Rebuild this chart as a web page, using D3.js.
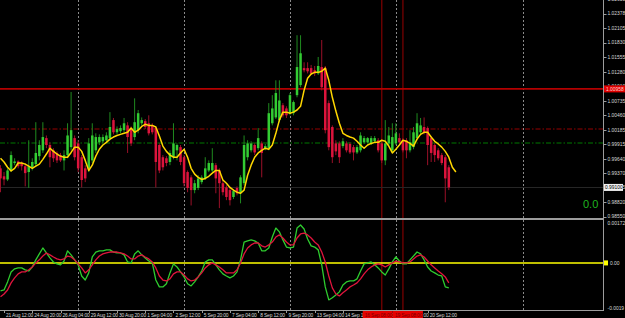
<!DOCTYPE html>
<html lang="en">
<head>
<meta charset="utf-8">
<title>H4 chart</title>
<script src="https://d3js.org/d3.v7.min.js"></script>
<style>
  html, body { margin: 0; padding: 0; background: #000; }
  svg { display: block; }
  text { font-family: "Liberation Sans", Arial, sans-serif; }
</style>
</head>
<body>
<div id="chart"></div>
<script>
// candles, [open, high, low, close], one per H4 bar
const bars = [
  [0.9946,0.9952,0.9901,0.9927],[0.9931,0.9939,0.9914,0.9925],[0.9925,0.9946,0.9922,0.9942],[0.9942,0.9978,0.9939,0.9971],
  [0.9956,0.9965,0.9952,0.9959],[0.9959,0.9961,0.9946,0.9950],[0.9956,0.9959,0.9942,0.9950],[0.9950,0.9956,0.9912,0.9937],
  [0.9939,0.9999,0.9909,0.9950],[0.9948,0.9965,0.9942,0.9958],[0.9954,1.0033,0.9950,0.9975],[0.9969,0.9999,0.9961,0.9990],
  [0.9980,1.0033,0.9975,1.0005],[1.0003,1.0008,0.9984,0.9990],[0.9990,0.9995,0.9948,0.9967],[0.9980,0.9984,0.9958,0.9965],
  [0.9975,0.9978,0.9956,0.9961],[0.9971,0.9975,0.9958,0.9961],[0.9961,0.9980,0.9942,0.9971],[0.9971,1.0031,0.9965,1.0008],
  [0.9986,1.0090,0.9980,1.0018],[1.0003,1.0008,0.9961,0.9967],[0.9993,0.9999,0.9939,0.9946],[0.9967,0.9971,0.9910,0.9924],
  [0.9946,0.9952,0.9920,0.9927],[0.9946,1.0003,0.9939,0.9993],[0.9961,1.0031,0.9956,1.0008],[0.9980,1.0012,0.9975,1.0005],
  [0.9995,1.0010,0.9990,1.0005],[0.9997,1.0010,0.9993,1.0005],[0.9999,1.0014,0.9995,1.0008],[1.0003,1.0052,0.9999,1.0024],
  [1.0037,1.0041,1.0010,1.0014],[1.0014,1.0025,1.0010,1.0020],[1.0016,1.0027,1.0012,1.0022],[1.0018,1.0041,1.0014,1.0031],
  [1.0027,1.0033,0.9975,1.0005],[1.0022,1.0025,0.9988,0.9993],[1.0005,1.0078,0.9999,1.0033],[1.0018,1.0056,1.0012,1.0050],
  [1.0031,1.0042,1.0027,1.0037],[1.0035,1.0039,1.0020,1.0024],[1.0031,1.0046,1.0008,1.0012],[1.0027,1.0031,1.0010,1.0014],
  [1.0022,1.0025,0.9910,0.9958],[0.9990,0.9993,0.9937,0.9942],[0.9967,0.9971,0.9942,0.9948],[0.9965,0.9969,0.9950,0.9956],
  [0.9958,0.9980,0.9952,0.9975],[0.9967,1.0031,0.9963,0.9993],[0.9980,0.9993,0.9961,0.9990],[0.9986,0.9990,0.9952,0.9958],
  [0.9967,0.9971,0.9912,0.9918],[0.9939,0.9942,0.9901,0.9909],[0.9929,0.9933,0.9876,0.9905],[0.9905,0.9924,0.9899,0.9918],
  [0.9909,0.9933,0.9905,0.9927],[0.9920,0.9933,0.9916,0.9929],[0.9927,0.9967,0.9924,0.9946],[0.9942,0.9961,0.9939,0.9956],
  [0.9942,0.9984,0.9939,0.9956],[0.9952,0.9956,0.9899,0.9927],[0.9942,0.9946,0.9871,0.9918],[0.9918,0.9924,0.9895,0.9901],
  [0.9910,0.9914,0.9886,0.9892],[0.9905,0.9909,0.9876,0.9886],[0.9892,0.9907,0.9888,0.9903],[0.9909,0.9912,0.9895,0.9899],
  [0.9899,0.9933,0.9880,0.9929],[0.9918,1.0008,0.9914,0.9990],[0.9967,0.9999,0.9961,0.9993],[0.9980,0.9997,0.9976,0.9993],
  [0.9990,0.9993,0.9971,0.9976],[0.9984,1.0022,0.9980,1.0003],[0.9993,0.9997,0.9929,0.9975],[0.9984,0.9992,0.9980,0.9988],
  [0.9984,1.0069,0.9980,1.0050],[1.0031,1.0084,1.0027,1.0059],[1.0042,1.0112,1.0039,1.0088],[1.0037,1.0112,1.0033,1.0074],
  [1.0065,1.0069,1.0042,1.0046],[1.0059,1.0063,1.0041,1.0046],[1.0050,1.0088,1.0046,1.0084],[1.0050,1.0074,1.0046,1.0071],
  [1.0084,1.0197,1.0080,1.0137],[1.0103,1.0197,1.0099,1.0163],[1.0135,1.0146,1.0127,1.0131],[1.0135,1.0146,1.0125,1.0129],
  [1.0135,1.0141,1.0122,1.0125],[1.0131,1.0139,1.0120,1.0125],[1.0125,1.0156,1.0122,1.0139],[1.0137,1.0188,1.0093,1.0099],
  [1.0135,1.0139,1.0012,1.0018],[1.0069,1.0074,0.9980,0.9986],[1.0024,1.0027,0.9956,0.9967],[0.9993,0.9999,0.9971,0.9978],
  [0.9993,0.9997,0.9956,0.9967],[0.9988,1.0003,0.9984,0.9997],[0.9993,0.9997,0.9976,0.9980],[0.9992,0.9995,0.9973,0.9976],
  [0.9986,0.9990,0.9961,0.9976],[0.9976,0.9990,0.9973,0.9986],[0.9980,1.0014,0.9976,1.0008],[0.9995,1.0007,0.9992,1.0003],
  [0.9995,1.0005,0.9993,1.0003],[0.9993,1.0007,0.9990,1.0003],[0.9997,1.0007,0.9995,1.0003],[0.9999,1.0003,0.9976,0.9980],
  [0.9993,0.9997,0.9956,0.9961],[0.9961,1.0037,0.9952,0.9993],[0.9993,1.0024,0.9990,1.0008],[0.9980,1.0031,0.9976,1.0005],
  [0.9993,1.0031,0.9990,1.0012],[1.0003,1.0012,0.9993,0.9995],[0.9999,1.0003,0.9976,0.9980],[0.9999,1.0003,0.9965,0.9980],
  [0.9980,1.0018,0.9976,0.9995],[0.9986,1.0024,0.9982,1.0014],[1.0003,1.0050,0.9999,1.0031],[1.0014,1.0041,1.0010,1.0027],
  [1.0024,1.0042,1.0010,1.0014],[1.0022,1.0025,0.9952,0.9990],[1.0003,1.0007,0.9958,0.9975],[0.9990,0.9993,0.9958,0.9971],
  [0.9980,0.9984,0.9961,0.9965],[0.9971,0.9975,0.9952,0.9956],[0.9967,0.9971,0.9882,0.9927],[0.9948,0.9952,0.9905,0.9910]
];

// yellow moving average (drawn two bars past the last candle)
const ma = [
  0.9965,0.9958,0.9948,0.9941,0.9946,0.9956,0.9956,0.9954,0.9950,0.9946,0.9950,0.9954,0.9963,0.9973,0.9984,0.9978,
  0.9973,0.9969,0.9967,0.9967,0.9976,0.9986,0.9986,0.9978,0.9961,0.9942,0.9952,0.9969,0.9982,0.9990,0.9995,1.0001,
  1.0005,1.0008,1.0010,1.0012,1.0014,1.0022,1.0014,1.0018,1.0025,1.0029,1.0027,1.0027,1.0024,1.0007,0.9988,0.9978,
  0.9971,0.9967,0.9967,0.9975,0.9982,0.9967,0.9946,0.9935,0.9929,0.9925,0.9927,0.9931,0.9937,0.9942,0.9942,0.9924,
  0.9918,0.9910,0.9905,0.9901,0.9899,0.9905,0.9933,0.9952,0.9967,0.9975,0.9980,0.9984,0.9982,0.9990,1.0012,1.0037,
  1.0052,1.0052,1.0050,1.0052,1.0056,1.0063,1.0093,1.0116,1.0124,1.0127,1.0127,1.0129,1.0135,1.0112,1.0080,1.0054,
  1.0031,1.0012,1.0008,1.0005,1.0003,0.9997,0.9990,0.9984,0.9990,0.9993,0.9995,0.9995,0.9999,0.9997,0.9988,0.9975,
  0.9982,0.9990,0.9999,0.9997,0.9993,0.9988,1.0001,1.0010,1.0014,1.0014,1.0005,0.9997,0.9992,0.9986,0.9978,0.9967,
  0.9948,0.9939
];

// lower window: green main line and red signal line
const fast = [
  -0.00118,-0.00114,-0.00080,-0.00038,-0.00025,-0.00021,-0.00021,-0.00029,-0.00034,-0.00017,0.00013,0.00038,0.00063,0.00042,0.00021,0.00004,
  -0.00004,-0.00008,0.00008,0.00051,0.00034,0.00013,-0.00008,-0.00055,-0.00072,-0.00042,0.00025,0.00046,0.00051,0.00051,0.00055,0.00055,
  0.00046,0.00042,0.00042,0.00034,0.00004,0.00000,0.00038,0.00051,0.00034,0.00021,0.00008,0.00000,-0.00072,-0.00101,-0.00101,-0.00088,
  -0.00042,-0.00004,-0.00017,-0.00038,-0.00059,-0.00088,-0.00097,-0.00080,-0.00059,-0.00034,0.00004,0.00013,0.00013,-0.00008,-0.00029,-0.00046,
  -0.00055,-0.00063,-0.00055,-0.00038,0.00013,0.00088,0.00093,0.00097,0.00093,0.00084,0.00051,0.00051,0.00063,0.00109,0.00147,0.00131,
  0.00097,0.00067,0.00063,0.00067,0.00147,0.00160,0.00143,0.00101,0.00072,0.00067,0.00055,-0.00008,-0.00101,-0.00156,-0.00147,-0.00135,
  -0.00122,-0.00093,-0.00080,-0.00076,-0.00076,-0.00067,-0.00034,-0.00004,0.00000,0.00004,-0.00008,-0.00021,-0.00038,-0.00051,-0.00025,0.00004,
  0.00025,0.00008,-0.00004,-0.00004,0.00013,0.00029,0.00046,0.00038,0.00013,-0.00017,-0.00034,-0.00042,-0.00051,-0.00055,-0.00101,-0.00105
];
const signal = [
  -0.00143,-0.00131,-0.00114,-0.00084,-0.00063,-0.00046,-0.00038,-0.00038,-0.00029,-0.00017,0.00000,0.00013,0.00029,0.00042,0.00034,0.00025,
  0.00017,0.00013,0.00017,0.00029,0.00025,0.00013,-0.00004,-0.00021,-0.00042,-0.00029,-0.00008,0.00013,0.00029,0.00038,0.00042,0.00046,
  0.00046,0.00046,0.00042,0.00038,0.00029,0.00017,0.00017,0.00029,0.00034,0.00025,0.00017,0.00004,-0.00021,-0.00055,-0.00072,-0.00076,
  -0.00067,-0.00046,-0.00038,-0.00038,-0.00051,-0.00067,-0.00076,-0.00072,-0.00059,-0.00042,-0.00021,-0.00008,0.00000,-0.00008,-0.00017,-0.00029,
  -0.00042,-0.00042,-0.00042,-0.00029,0.00000,0.00038,0.00063,0.00076,0.00084,0.00084,0.00072,0.00067,0.00076,0.00088,0.00109,0.00118,
  0.00105,0.00088,0.00076,0.00076,0.00105,0.00122,0.00126,0.00118,0.00105,0.00088,0.00076,0.00046,0.00004,-0.00055,-0.00105,-0.00131,
  -0.00139,-0.00126,-0.00114,-0.00101,-0.00093,-0.00084,-0.00067,-0.00046,-0.00029,-0.00017,-0.00008,-0.00004,-0.00008,-0.00017,-0.00008,0.00000,
  0.00008,0.00004,0.00000,0.00000,0.00004,0.00017,0.00029,0.00034,0.00025,0.00008,-0.00008,-0.00021,-0.00034,-0.00046,-0.00059,-0.00084
];

// axis texts
const priceTicks = [0.98550,0.98820,0.99095,0.99370,0.99640,0.99915,1.00185,1.00460,1.00735,1.01010,1.01280,1.01555,1.01830,1.02105,1.02378,1.02650];
const indTicks = [0.001725, 0, -0.0019];
const indTickText = ["0.001725", "0.00", "-0.0019"];
const timeBars = [1,9,17,25,33,41,49,57,65,73,81,89,97,105,113,121];
const timeLabels = ["21 Aug 12:00","24 Aug 20:00","26 Aug 04:00","29 Aug 12:00","30 Aug 20:00","1 Sep 04:00","2 Sep 12:00","5 Sep 20:00",
  "7 Sep 04:00","8 Sep 12:00","9 Sep 20:00","13 Sep 04:00","14 Sep 12:00","15 Sep 20:00","19 Sep 04:00","20 Sep 12:00"];

// chart objects
const separatorBars = [22, 52, 82, 112, 148];
const vLineBars = [108, 114];
const vLineLabels = ["16 Sep 08:00", "19 Sep 08:00"];
const redLevel = 1.00958;
const dashLevels = [{v: 1.0020, c: "#960000"}, {v: 0.9993, c: "#007800"}];

const width = 625, height = 318;
const plotRight = 603.5;
const mainTop = 0, mainBottom = 218;
const indTop = 220, indBottom = 310;
const fs = 4.9;

const svg = d3.select("#chart").append("svg")
    .attr("width", width).attr("height", height);
svg.append("rect").attr("width", width).attr("height", height).attr("fill", "#000");

const x = d3.scaleLinear().domain([0, 170]).range([0.5, 0.5 + 170 * 3.53]);
const y = d3.scaleLinear().domain([0.98550, 1.02378]).range([216.6, 13.6]);
const yi = d3.scaleLinear().domain([-0.0019, 0.001725]).range([308, 222]);

const defs = svg.append("defs");
defs.append("clipPath").attr("id", "clipMain")
    .append("rect").attr("x", 0).attr("y", mainTop).attr("width", plotRight).attr("height", mainBottom - mainTop);
defs.append("clipPath").attr("id", "clipInd")
    .append("rect").attr("x", 0).attr("y", indTop).attr("width", plotRight).attr("height", indBottom - indTop);

// vertical lines through both windows
const vg = svg.append("g");
vg.selectAll("line.sep").data(separatorBars).join("line")
    .attr("class", "sep")
    .attr("x1", d => Math.round(x(d)) + 0.5).attr("x2", d => Math.round(x(d)) + 0.5)
    .attr("y1", 0).attr("y2", indBottom)
    .attr("stroke", "#8a8a8a").attr("stroke-width", 1).attr("stroke-dasharray", "2,2");
vg.selectAll("line.vl").data(vLineBars).join("line")
    .attr("class", "vl")
    .attr("x1", d => x(d)).attr("x2", d => x(d))
    .attr("y1", 0).attr("y2", indBottom)
    .attr("stroke", "#6e0000").attr("stroke-width", 1.4);

// ---- main window
const main = svg.append("g").attr("clip-path", "url(#clipMain)");

main.append("line")
    .attr("x1", 0).attr("x2", plotRight)
    .attr("y1", y(redLevel)).attr("y2", y(redLevel))
    .attr("stroke", "#b40000").attr("stroke-width", 1.6);

main.selectAll("line.lvl").data(dashLevels).join("line")
    .attr("class", "lvl")
    .attr("x1", 0).attr("x2", plotRight)
    .attr("y1", d => Math.round(y(d.v))).attr("y2", d => Math.round(y(d.v)))
    .attr("stroke", d => d.c).attr("stroke-width", 1.2).attr("stroke-dasharray", "5,2,1.5,2");

const lastClose = bars[bars.length - 1][3];
main.append("line")
    .attr("x1", 0).attr("x2", plotRight)
    .attr("y1", Math.round(y(lastClose)) + 0.5).attr("y2", Math.round(y(lastClose)) + 0.5)
    .attr("stroke", "#262626").attr("stroke-width", 1);

const candle = main.append("g").selectAll("g").data(bars).join("g");
candle.append("line")
    .attr("x1", (d, i) => x(i)).attr("x2", (d, i) => x(i))
    .attr("y1", d => y(d[1])).attr("y2", d => y(d[2]))
    .attr("stroke", d => d[3] >= d[0] ? "#1f8a1f" : "#9a1028")
    .attr("stroke-width", 1);
candle.append("rect")
    .attr("x", (d, i) => x(i) - 1.25)
    .attr("width", 2.5)
    .attr("y", d => y(Math.max(d[0], d[3])))
    .attr("height", d => Math.max(1, Math.abs(y(d[0]) - y(d[3]))))
    .attr("fill", d => d[3] >= d[0] ? "#33cc33" : "#dc143c");

main.append("path")
    .datum(ma)
    .attr("fill", "none")
    .attr("stroke", "#ffd700")
    .attr("stroke-width", 1.5)
    .attr("stroke-linejoin", "round")
    .attr("d", d3.line().x((d, i) => x(i)).y(d => y(d)));

svg.append("text")
    .attr("x", 583).attr("y", 208)
    .attr("fill", "#1fb51f")
    .attr("font-size", 11)
    .text("0.0");

// ---- indicator window
const ind = svg.append("g").attr("clip-path", "url(#clipInd)");
ind.append("line")
    .attr("x1", 0).attr("x2", plotRight)
    .attr("y1", yi(0)).attr("y2", yi(0))
    .attr("stroke", "#ffff00").attr("stroke-width", 1.5);

const indLine = d3.line().x((d, i) => x(i)).y(d => yi(d));
ind.append("path").datum(fast)
    .attr("fill", "none").attr("stroke", "#2ecc2e").attr("stroke-width", 1.3)
    .attr("stroke-linejoin", "round").attr("d", indLine);
ind.append("path").datum(signal)
    .attr("fill", "none").attr("stroke", "#e0143c").attr("stroke-width", 1.3)
    .attr("stroke-linejoin", "round").attr("d", indLine);

// ---- frame
svg.append("line")
    .attr("x1", 0).attr("x2", plotRight).attr("y1", 219).attr("y2", 219)
    .attr("stroke", "#9c9c9c").attr("stroke-width", 2);
svg.append("line")
    .attr("x1", 0).attr("x2", plotRight).attr("y1", indBottom + 0.5).attr("y2", indBottom + 0.5)
    .attr("stroke", "#9c9c9c").attr("stroke-width", 1);
svg.append("line")
    .attr("x1", plotRight).attr("x2", plotRight).attr("y1", 0).attr("y2", indBottom + 1)
    .attr("stroke", "#9c9c9c").attr("stroke-width", 1);

// price scale
const pAxis = svg.append("g");
pAxis.selectAll("line").data(priceTicks).join("line")
    .attr("x1", plotRight).attr("x2", plotRight + 3)
    .attr("y1", d => Math.round(y(d)) + 0.5).attr("y2", d => Math.round(y(d)) + 0.5)
    .attr("stroke", "#9c9c9c");
pAxis.selectAll("text").data(priceTicks).join("text")
    .attr("x", 607.5).attr("y", d => y(d) + 1.8)
    .attr("fill", "#d8d8d8").attr("font-size", fs)
    .text(d => d3.format(".5f")(d));

// red level tag and bid tag
svg.append("rect")
    .attr("x", 604).attr("y", y(redLevel) - 3.5).attr("width", 21).attr("height", 7)
    .attr("fill", "#e00000");
svg.append("text")
    .attr("x", 606).attr("y", y(redLevel) + 1.8)
    .attr("fill", "#ffd0d0").attr("font-size", fs)
    .text(d3.format(".5f")(redLevel));
svg.append("rect")
    .attr("x", 604).attr("y", y(lastClose) - 3.5).attr("width", 19).attr("height", 7)
    .attr("fill", "#f0f0f0");
svg.append("text")
    .attr("x", 605).attr("y", y(lastClose) + 1.8)
    .attr("fill", "#000").attr("font-size", fs)
    .text(d3.format(".5f")(lastClose));

// indicator scale
const iAxis = svg.append("g");
iAxis.selectAll("text").data(indTicks).join("text")
    .attr("x", (d, i) => i === 1 ? 610 : 607.5)
    .attr("y", (d, i) => i === 0 ? yi(d) + 2.6 : yi(d) + 1.8)
    .attr("fill", "#d8d8d8").attr("font-size", fs)
    .text((d, i) => indTickText[i]);
svg.append("rect")
    .attr("x", 604).attr("y", yi(0) - 2.5).attr("width", 4).attr("height", 5)
    .attr("fill", "#ffff00");

// time scale
const tAxis = svg.append("g");
tAxis.selectAll("line").data(timeBars).join("line")
    .attr("x1", d => Math.round(x(d)) + 0.5).attr("x2", d => Math.round(x(d)) + 0.5)
    .attr("y1", indBottom).attr("y2", indBottom + 3)
    .attr("stroke", "#9c9c9c");
tAxis.selectAll("text").data(timeBars).join("text")
    .attr("x", d => x(d) + 2).attr("y", 316.5)
    .attr("fill", "#d8d8d8").attr("font-size", fs)
    .attr("letter-spacing", -0.15)
    .text((d, i) => timeLabels[i]);

// vertical line tags on the time scale
const vTag = svg.append("g").selectAll("g").data(vLineBars).join("g");
vTag.append("rect")
    .attr("x", (d, i) => i === 0 ? x(d) - 19 : x(d) - 10).attr("y", indBottom + 1)
    .attr("width", 30).attr("height", 8)
    .attr("fill", "#e60000");
vTag.append("text")
    .attr("x", (d, i) => i === 0 ? x(d) - 17 : x(d) - 8).attr("y", 316.5)
    .attr("fill", "#7a0000").attr("font-size", fs)
    .attr("letter-spacing", -0.15)
    .text((d, i) => vLineLabels[i]);
</script>
</body>
</html>
